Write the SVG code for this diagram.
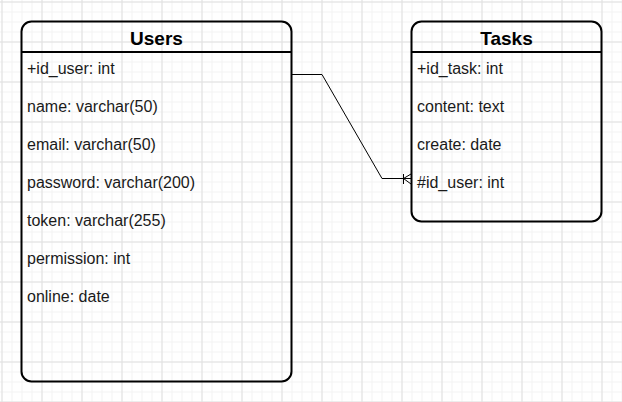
<svg xmlns="http://www.w3.org/2000/svg" width="622" height="402" viewBox="0 0 622 402">
  <defs>
    <pattern id="minor" x="1.5" y="1.5" width="10" height="10" patternUnits="userSpaceOnUse">
      <path d="M0 0.5 H10 M0.5 0 V10" fill="none" stroke="#f3f3f3" stroke-width="1"/>
    </pattern>
    <pattern id="major" x="1.5" y="1.5" width="40" height="40" patternUnits="userSpaceOnUse">
      <path d="M0 0.5 H40 M0.5 0 V40" fill="none" stroke="#e0e0e0" stroke-width="1"/>
    </pattern>
    <style>
      .box { fill: none; stroke: #000; stroke-width: 2; }
      .sep { stroke: #000; stroke-width: 2; }
      .title { font-family: "Liberation Sans", Arial, sans-serif; font-size: 19px; font-weight: bold; fill: #000; text-anchor: middle; }
      .row { font-family: "Liberation Sans", Arial, sans-serif; font-size: 16px; fill: #1a1a1a; }
      .conn { fill: none; stroke: #000; stroke-width: 1; }
    </style>
  </defs>
  <rect width="622" height="402" fill="#fff"/>
  <rect width="622" height="402" fill="url(#minor)"/>
  <rect width="622" height="402" fill="url(#major)"/>

  <g id="connectors">
    <path class="conn" d="M292 74.5 H322 L382 178.5 H411"/>
    <path class="conn" d="M403.5 174 V184 M403.5 178.5 L411 174 M403.5 178.5 L411 184"/>
  </g>

  <g id="users">
    <rect class="box" x="21.5" y="21.5" width="270" height="360" rx="10" ry="10"/>
    <line class="sep" x1="21.5" y1="52" x2="291.5" y2="52"/>
    <text class="title" x="156.5" y="45">Users</text>
    <text class="row" x="27" y="74">+id_user: int</text>
    <text class="row" x="27" y="112">name: varchar(50)</text>
    <text class="row" x="27" y="150">email: varchar(50)</text>
    <text class="row" x="27" y="188">password: varchar(200)</text>
    <text class="row" x="27" y="226">token: varchar(255)</text>
    <text class="row" x="27" y="264">permission: int</text>
    <text class="row" x="27" y="302">online: date</text>
  </g>

  <g id="tasks">
    <rect class="box" x="411.5" y="21.5" width="190" height="200" rx="10" ry="10"/>
    <line class="sep" x1="411.5" y1="52" x2="601.5" y2="52"/>
    <text class="title" x="506.5" y="45">Tasks</text>
    <text class="row" x="417" y="74">+id_task: int</text>
    <text class="row" x="417" y="112">content: text</text>
    <text class="row" x="417" y="150">create: date</text>
    <text class="row" x="417" y="188">#id_user: int</text>
  </g>
</svg>
